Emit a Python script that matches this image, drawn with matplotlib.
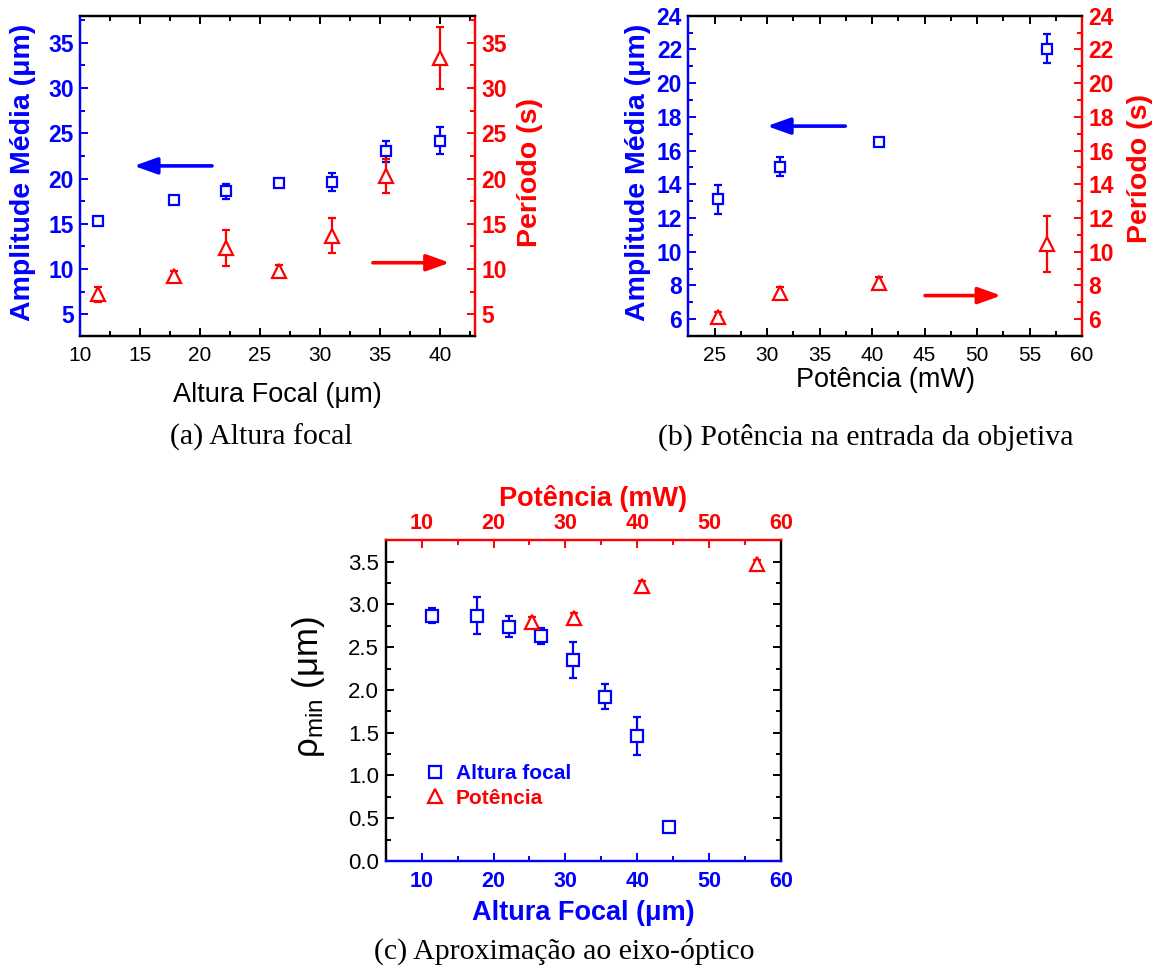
import matplotlib
matplotlib.use('Agg')
import matplotlib.pyplot as plt
from matplotlib.lines import Line2D
from matplotlib.ticker import MultipleLocator

plt.rcParams['font.family'] = ['Liberation Sans', 'DejaVu Sans']
plt.rcParams['mathtext.fontset'] = 'custom'
plt.rcParams['mathtext.rm'] = 'Liberation Sans'
plt.rcParams['mathtext.it'] = 'Liberation Sans:italic'
plt.rcParams['mathtext.bf'] = 'Liberation Sans:bold'

AZUL = '#0000ff'
VERMELHO = '#ff0000'

# --- (a) variação da altura focal ---
altura = [11.5, 17.8, 22.2, 26.6, 31.0, 35.5, 40.0]
amp_altura = [15.3, 17.6, 18.6, 19.5, 19.6, 23.0, 24.2]
amp_altura_err = [0.3, 0.35, 0.85, 0.3, 1.0, 1.2, 1.45]
per_altura = [7.2, 9.2, 12.3, 9.8, 13.7, 20.3, 33.3]
per_altura_err = [0.8, 0.6, 2.0, 0.6, 1.9, 1.85, 3.45]

# --- (b) variação da potência ---
potencia = [25.3, 31.25, 40.7, 56.7]
amp_pot = [13.1, 15.05, 16.5, 22.05]
amp_pot_err = [0.87, 0.55, 0.25, 0.85]
per_pot = [6.1, 7.55, 8.15, 10.45]
per_pot_err = [0.3, 0.35, 0.35, 1.68]

# --- (c) raio mínimo ---
altura_c = [11.5, 17.7, 22.1, 26.6, 31.0, 35.5, 40.0, 44.4]
rho_altura = [2.87, 2.87, 2.74, 2.63, 2.35, 1.92, 1.46, 0.40]
rho_altura_err = [0.09, 0.22, 0.125, 0.095, 0.21, 0.145, 0.225, 0.02]
rho_pot = [2.80, 2.84, 3.21, 3.47]
rho_pot_err = [0.05, 0.06, 0.06, 0.05]

# setas indicando o eixo de cada série: (x_ini, y) -> (x_fim, y)
seta_a_azul = ((21.0, 21.4), (14.5, 21.4))
seta_a_verm = ((34.4, 10.7), (40.8, 10.7))
seta_b_azul = ((37.45, 17.45), (30.0, 17.45))
seta_b_verm = ((45.05, 7.4), (52.3, 7.4))

TICK_B = 16.5    # rótulos em negrito
TICK_N = 15      # rótulos normais
LABEL = 19.5


def pinta_spines(axes, cores):
    for a in axes:
        for lado, cor in cores.items():
            a.spines[lado].set_color(cor)
            a.spines[lado].set_linewidth(1.6)


def seta(ax, ini, fim, cor):
    ax.annotate('', xy=fim, xytext=ini,
                arrowprops=dict(arrowstyle='-|>,head_length=1.4,head_width=0.5',
                                color=cor, lw=2.6, shrinkA=0, shrinkB=0,
                                mutation_scale=10))


def barras(ax, x, y, err, marcador, cor, ms):
    ax.errorbar(x, y, yerr=err, fmt=marcador, ms=ms, mfc='white', mec=cor,
                mew=1.6, ecolor=cor, elinewidth=1.6, capsize=3, capthick=1.6)


def eixo_duplo(rect, x, amp, amp_err, per, per_err, xlim, ylim, ymaj, ymin,
               xmaj, xmin, xlabel, setas, pos_labels):
    ax = fig.add_axes(rect)
    ax2 = ax.twinx()
    barras(ax, x, amp, amp_err, 's', AZUL, 7.5)
    barras(ax2, x, per, per_err, '^', VERMELHO, 10.5)
    for a in (ax, ax2):
        a.set_xlim(*xlim)
        a.set_ylim(*ylim)
        a.yaxis.set_major_locator(MultipleLocator(ymaj))
        a.yaxis.set_minor_locator(MultipleLocator(ymin))
    ax.xaxis.set_major_locator(MultipleLocator(xmaj))
    ax.xaxis.set_minor_locator(MultipleLocator(xmin))
    ax.tick_params(axis='x', which='both', direction='in', top=True,
                   labelsize=TICK_N, width=1.4, colors='black', pad=7)
    ax.tick_params(axis='x', which='major', length=6)
    ax.tick_params(axis='x', which='minor', length=3.5)
    ax.tick_params(axis='y', which='both', direction='in', left=True, right=False,
                   colors=AZUL, width=1.4, labelsize=TICK_B, pad=4.5)
    ax.tick_params(axis='y', which='major', length=6)
    ax.tick_params(axis='y', which='minor', length=3.5)
    ax2.tick_params(axis='y', which='both', direction='in', right=True, left=False,
                    colors=VERMELHO, width=1.4, labelsize=TICK_B, pad=4.5)
    ax2.tick_params(axis='y', which='major', length=6)
    ax2.tick_params(axis='y', which='minor', length=3.5)
    for lbl in ax.get_yticklabels() + ax2.get_yticklabels():
        lbl.set_fontweight('bold')
    pinta_spines((ax, ax2), {'left': AZUL, 'right': VERMELHO,
                             'top': 'black', 'bottom': 'black'})
    ax.set_xlabel(xlabel, fontsize=LABEL)
    ax.set_ylabel('Amplitude Média (μm)', color=AZUL, fontsize=20.5,
                  fontweight='bold')
    ax2.set_ylabel('Período (s)', color=VERMELHO, fontsize=20.5,
                   fontweight='bold')
    ax.xaxis.set_label_coords(0.5, pos_labels[0])
    ax.yaxis.set_label_coords(*pos_labels[1])
    ax2.yaxis.set_label_coords(*pos_labels[2])
    seta(ax, setas[0][0], setas[0][1], AZUL)
    seta(ax2, setas[1][0], setas[1][1], VERMELHO)
    return ax, ax2


fig = plt.figure(figsize=(11.57, 9.67), dpi=100)

# (a)
ax_a, ax_a2 = eixo_duplo([0.0691, 0.6525, 0.3414, 0.3313], altura,
                         amp_altura, amp_altura_err, per_altura, per_altura_err,
                         (10, 42.9), (2.6, 38), 5, 2.5, 5, 2.5,
                         'Altura Focal (μm)', (seta_a_azul, seta_a_verm),
                         (-0.142, (-0.111, 0.512), (1.1055, 0.51)))

# (b)
ax_b, ax_b2 = eixo_duplo([0.5949, 0.6525, 0.3403, 0.3313], potencia,
                         amp_pot, amp_pot_err, per_pot, per_pot_err,
                         (22.5, 60), (5, 24), 2, 1, 5, 2.5,
                         'Potência (mW)', (seta_b_azul, seta_b_verm),
                         (-0.097, (-0.095, 0.512), (1.1135, 0.522)))

# (c)
ax_c = fig.add_axes([0.3334, 0.1096, 0.3416, 0.3317])
ax_ct = ax_c.twiny()
barras(ax_c, altura_c, rho_altura, rho_altura_err, 's', AZUL, 8.5)
barras(ax_ct, potencia, rho_pot, rho_pot_err, '^', VERMELHO, 10.5)
for a in (ax_c, ax_ct):
    a.set_xlim(5, 60)
    a.set_ylim(0, 3.75)
    a.xaxis.set_major_locator(MultipleLocator(10))
    a.xaxis.set_minor_locator(MultipleLocator(5))
ax_c.yaxis.set_major_locator(MultipleLocator(0.5))
ax_c.yaxis.set_minor_locator(MultipleLocator(0.25))
ax_c.yaxis.set_major_formatter('{x:.1f}')
ax_c.tick_params(axis='y', which='both', direction='in', left=True, right=True,
                 width=1.4, labelsize=16, pad=5)
ax_c.tick_params(axis='y', which='major', length=6)
ax_c.tick_params(axis='y', which='minor', length=3.5)
ax_c.tick_params(axis='x', which='both', direction='in', top=False,
                 colors=AZUL, width=1.4, labelsize=15.5, pad=7)
ax_ct.tick_params(axis='x', which='both', direction='in', bottom=False,
                  colors=VERMELHO, width=1.4, labelsize=15.5, pad=4.5)
for a in (ax_c, ax_ct):
    a.tick_params(axis='x', which='major', length=6)
    a.tick_params(axis='x', which='minor', length=3.5)
for lbl in ax_c.get_xticklabels() + ax_ct.get_xticklabels():
    lbl.set_fontweight('bold')
pinta_spines((ax_c, ax_ct), {'left': 'black', 'right': 'black',
                             'top': VERMELHO, 'bottom': AZUL})
ax_c.set_xlabel('Altura Focal (μm)', color=AZUL, fontsize=LABEL,
                fontweight='bold')
ax_ct.set_xlabel('Potência (mW)', color=VERMELHO, fontsize=LABEL,
                 fontweight='bold')
ax_c.set_ylabel(r'$\mathrm{\rho_{min}}$ (μm)', fontsize=25)
ax_c.xaxis.set_label_coords(0.5, -0.122)
ax_ct.xaxis.set_label_coords(0.525, 1.106)
ax_c.yaxis.set_label_coords(-0.148, 0.542)

handles = [Line2D([], [], ls='none', marker='s', ms=8.5, mfc='white', mec=AZUL, mew=1.6),
           Line2D([], [], ls='none', marker='^', ms=10.5, mfc='white', mec=VERMELHO, mew=1.6)]
leg = ax_ct.legend(handles, ['Altura focal', 'Potência'], loc='upper left',
                   bbox_to_anchor=(0.05, 0.36), frameon=False, handlelength=1.0,
                   handletextpad=0.5, labelspacing=0.25,
                   prop={'size': 15, 'weight': 'bold'})
for txt, cor in zip(leg.get_texts(), (AZUL, VERMELHO)):
    txt.set_color(cor)

# legendas das figuras
serif = ['Liberation Serif', 'DejaVu Serif']
fig.text(0.226, 0.548, '(a) Altura focal', ha='center', va='center',
         fontsize=21.5, family=serif)
fig.text(0.748, 0.548, '(b) Potência na entrada da objetiva', ha='center',
         va='center', fontsize=21.5, family=serif)
fig.text(0.488, 0.016, '(c) Aproximação ao eixo-óptico', ha='center',
         va='center', fontsize=21.5, family=serif)

fig.savefig('out.png', dpi=100)
